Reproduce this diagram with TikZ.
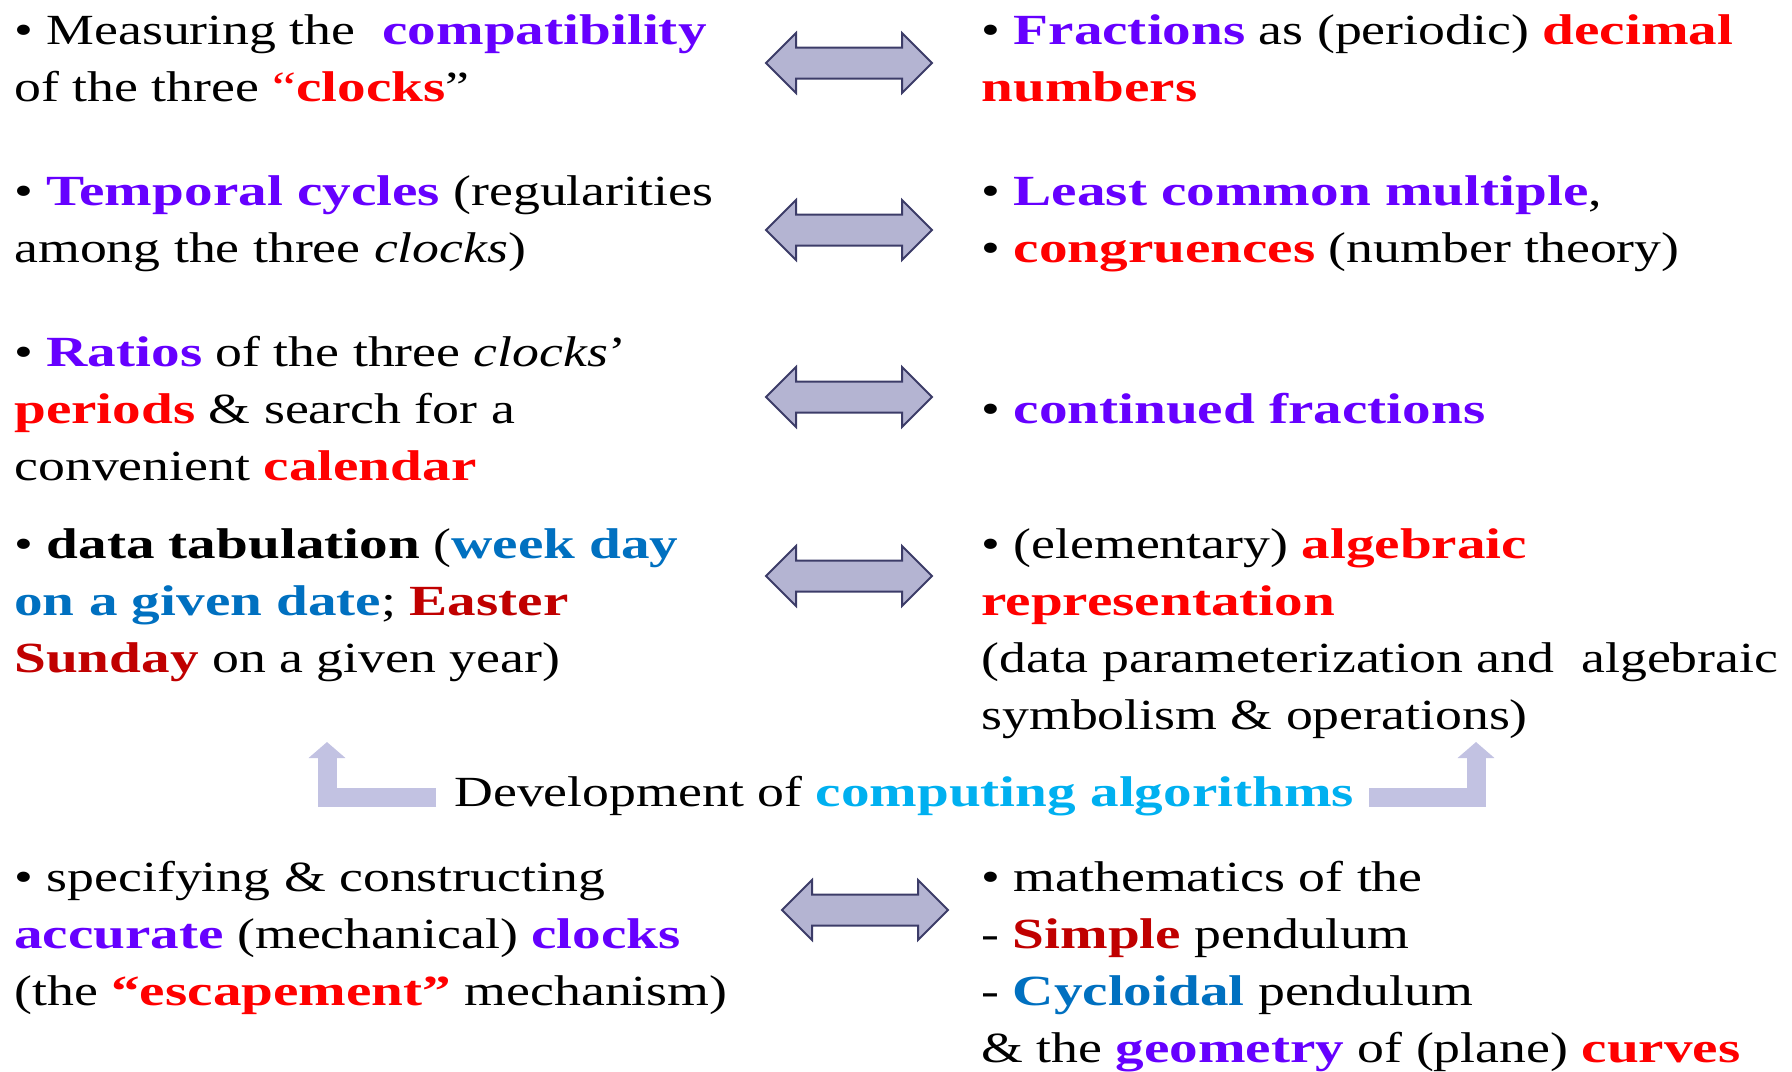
\documentclass[tikz,border=0pt]{standalone}
\usepackage{fontspec}
\setmainfont{Liberation Serif}[FakeStretch=1.25,BoldFeatures={FakeStretch=1.33}]
\usetikzlibrary{shapes.arrows,arrows.meta}
\definecolor{vio}{HTML}{6600FF}
\definecolor{brightred}{HTML}{FF0000}
\definecolor{darkred}{HTML}{C00000}
\definecolor{ocean}{HTML}{0070C0}
\definecolor{sky}{HTML}{00B0F0}
\definecolor{arrowfill}{HTML}{B4B4D2}
\definecolor{arrowline}{HTML}{3C3C68}
\definecolor{bendfill}{HTML}{C2C2E2}
\newcommand{\vio}[1]{\textbf{\color{vio}#1}}
\newcommand{\rd}[1]{\textbf{\color{brightred}#1}}
\newcommand{\drd}[1]{\textbf{\color{darkred}#1}}
\newcommand{\blu}[1]{\textbf{\color{ocean}#1}}
\newcommand{\sky}[1]{\textbf{\color{sky}#1}}
\tikzset
  {txt/.style={inner sep=0pt,anchor=north west,align=left,font=\fontsize{21.5}{28.5}\selectfont},
   dblarrow/.style={double arrow,draw=arrowline,fill=arrowfill,line width=1pt,inner xsep=0pt,
                    inner ysep=7.25pt,minimum height=83pt,double arrow head extend=7.25pt},
   bentarrow/.style={draw=bendfill,line width=9.5pt,-{Triangle[width=18pt,length=8pt]}}}

\begin{document}
\begin{tikzpicture}[x=0.5pt,y=-0.5pt]
\useasboundingbox (0,0) rectangle (1792,1071);

 % left column
 \draw (14,4)   node[txt] (L1) {\strut• Measuring the \ \vio{compatibility}\\
                                 of the three {\color{brightred}“}\rd{clocks}”};
 \draw (14,165) node[txt] (L2) {\strut• \vio{Temporal cycles} (regularities\\
                                 among the three \textit{clocks})};
 \draw (14,326) node[txt] (L3) {\strut• \vio{Ratios} of the three \textit{clocks}’\\
                                 \rd{periods} \& search for a\\
                                 convenient \rd{calendar}};
 \draw (14,518) node[txt] (L4) {\strut• \textbf{data tabulation} (\blu{week day}\\
                                 \blu{on a given date}; \drd{Easter}\\
                                 \drd{Sunday} on a given year)};
 \draw (14,851) node[txt] (L5) {\strut• specifying \& constructing\\
                                 \vio{accurate} (mechanical) \vio{clocks}\\
                                 (the \rd{“escapement”} mechanism)};

 % right column
 \draw (981,4)   node[txt] (R1) {\strut• \vio{Fractions} as (periodic) \rd{decimal}\\
                                  \rd{numbers}};
 \draw (981,165) node[txt] (R2) {\strut• \vio{Least common multiple},\\
                                  • \rd{congruences} (number theory)};
 \draw (981,383) node[txt] (R3) {\strut• \vio{continued fractions}};
 \draw (981,518) node[txt] (R4) {\strut• (elementary) \rd{algebraic}\\
                                  \rd{representation}\\
                                  (data parameterization and \ algebraic\\
                                  symbolism \& operations)};
 \draw (981,851) node[txt] (R5) {\strut• mathematics of the\\
                                  - \drd{Simple} pendulum\\
                                  - \blu{Cycloidal} pendulum\\
                                  \& the \vio{geometry} of (plane) \rd{curves}};

 % middle line
 \draw (454,766) node[txt] (dev) {\strut Development of \sky{computing algorithms}};

 % double arrows
 \draw (849,63)  node[dblarrow] (A1) {};
 \draw (849,230) node[dblarrow] (A2) {};
 \draw (849,397) node[dblarrow] (A3) {};
 \draw (849,576) node[dblarrow] (A4) {};
 \draw (865,910) node[dblarrow] (A5) {};

 % bent arrows
 \coordinate (lfoot) at (436,797);
 \coordinate (ltip)  at (327,742);
 \coordinate (rfoot) at (1369,797);
 \coordinate (rtip)  at (1476,742);
 \draw[bentarrow] (lfoot) -| (ltip);
 \draw[bentarrow] (rfoot) -| (rtip);
\end{tikzpicture}
\end{document}
